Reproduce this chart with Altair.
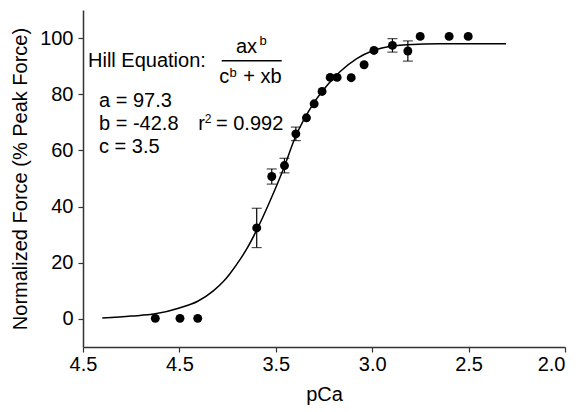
import altair as alt
import pandas as pd

# ---- data ----
pca = [4.125, 3.997, 3.905, 3.599, 3.521, 3.455, 3.396, 3.341, 3.301, 3.26,
       3.218, 3.182, 3.109, 3.042, 2.991, 2.895, 2.815, 2.751, 2.601, 2.502]
force = [0.2, 0.2, 0.2, 32.4, 50.7, 54.6, 65.9, 71.6, 76.6, 81.0,
         86.0, 86.0, 85.9, 90.5, 95.6, 97.4, 95.4, 100.6, 100.6, 100.6]

err_pca = [3.599, 3.521, 3.455, 3.396, 2.895, 2.815]
err_mean = [32.4, 50.7, 54.6, 65.9, 97.4, 95.4]
err_sd = [7.0, 2.7, 2.6, 2.4, 2.4, 3.6]

fit_pca = [4.40, 4.25, 4.125, 4.0, 3.905, 3.824, 3.772, 3.737, 3.685, 3.65,
           3.60, 3.53, 3.46, 3.40, 3.30, 3.23, 3.166, 3.08, 2.994, 2.895,
           2.82, 2.647, 2.50, 2.306]
fit_force = [0.3, 1.0, 1.8, 3.9, 6.3, 10.0, 13.3, 16.2, 21.2, 25.0,
             31.5, 42.0, 53.5, 64.5, 77.2, 83.5, 88.1, 92.7, 95.6, 97.2,
             97.6, 98.0, 98.0, 98.0]

x_tick_values = [4.5, 4.0, 3.5, 3.0, 2.5, 2.0]
x_tick_labels = ["4.5", "4.5", "3.5", "3.0", "2.5", "2.0"]
y_tick_values = [0, 20, 40, 60, 80, 100]

FONT = "Liberation Sans"

pts = pd.DataFrame({"pCa": pca, "force": force})
err = pd.DataFrame({"pCa": err_pca,
                    "lo": [m - s for m, s in zip(err_mean, err_sd)],
                    "hi": [m + s for m, s in zip(err_mean, err_sd)]})
fit = pd.DataFrame({"pCa": fit_pca, "force": fit_force, "order": list(range(len(fit_pca)))})
one = pd.DataFrame({"k": [0]})

label_expr = "format(datum.value, '.1f')"
for v, l in reversed(list(zip(x_tick_values, x_tick_labels))):
    label_expr = f"abs(datum.value - {v}) < 0.001 ? '{l}' : ({label_expr})"

xscale = alt.Scale(domain=[2.0, 4.5], reverse=True, nice=False, zero=False, padding=0)
yscale = alt.Scale(domain=[-10, 110], nice=False, zero=False, padding=0)

x_axis = alt.Axis(values=x_tick_values, labelExpr=label_expr, title="pCa",
                  grid=False, titlePadding=10, labelPadding=2, labelFlush=False,
                  labelAlign={"condition": {"test": f"datum.value <= {min(x_tick_values) + 0.01}",
                                            "value": "right"},
                              "value": "center"})
y_axis = alt.Axis(values=y_tick_values, title="Normalized Force (% Peak Force)",
                  grid=False, titlePadding=9, labelPadding=5, labelFlush=False)

line = alt.Chart(fit).mark_line(color="black", strokeWidth=1.5, interpolate="monotone").encode(
    x=alt.X("pCa:Q", scale=xscale, axis=x_axis),
    y=alt.Y("force:Q", scale=yscale, axis=y_axis),
    order="order:Q",
)

bars = alt.Chart(err).mark_rule(color="black", strokeWidth=1.2).encode(
    x="pCa:Q", y="lo:Q", y2="hi:Q")
cap_lo = alt.Chart(err).mark_tick(color="black", orient="horizontal", size=10, thickness=1.2).encode(
    x="pCa:Q", y="lo:Q")
cap_hi = alt.Chart(err).mark_tick(color="black", orient="horizontal", size=10, thickness=1.2).encode(
    x="pCa:Q", y="hi:Q")

dots = alt.Chart(pts).mark_circle(color="black", opacity=1, size=80).encode(
    x="pCa:Q", y="force:Q")


def txt(s, x, y, size=20):
    return alt.Chart(one).mark_text(text=s, align="left", baseline="alphabetic",
                                    fontSize=size, font=FONT, color="black").encode(
        x=alt.value(x), y=alt.value(y))


annot = [
    txt("Hill Equation:", 5, 56.7),
    txt("ax", 153, 43.3),
    txt("b", 176.5, 35, 13),
    txt("c", 136.3, 72.7),
    txt("b", 146.5, 67, 13),
    txt("+ xb", 160.3, 72.7),
    txt("a = 97.3", 16, 97.3),
    txt("b = -42.8", 16, 120),
    txt("r", 115.3, 120),
    txt("2", 121.8, 112.5, 12),
    txt("= 0.992", 133, 120),
    txt("c = 3.5", 16, 143.3),
]

frac = alt.Chart(one).mark_rule(color="black", strokeWidth=1.6).encode(
    x=alt.value(138.7), x2=alt.value(198.7), y=alt.value(50.7))

chart = alt.layer(line, bars, cap_lo, cap_hi, dots, frac, *annot).properties(
    width=482, height=337,
    autosize=alt.AutoSizeParams(type="none"),
    padding={"left": 75, "top": 2, "right": 5, "bottom": 64},
).configure_view(stroke=None).configure_axis(
    labelFont=FONT, titleFont=FONT, labelFontSize=20, titleFontSize=20,
    labelColor="black", titleColor="black", titleFontWeight="normal",
    domainColor="#333333", domainWidth=1.5, tickColor="#333333", tickWidth=1.2, tickSize=5,
)

chart.save("out.html", embed_options={"renderer": "svg", "actions": False})
